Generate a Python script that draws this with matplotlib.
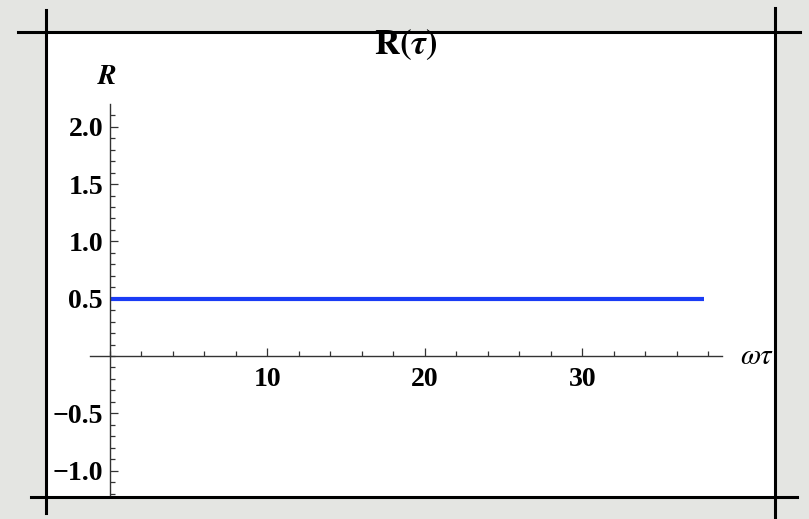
import matplotlib.pyplot as plt
import numpy as np
from matplotlib.lines import Line2D
from matplotlib.patches import Rectangle
from matplotlib.ticker import MultipleLocator, FixedLocator

plt.rcParams['mathtext.fontset'] = 'stix'
plt.rcParams['font.family'] = ['Liberation Serif', 'DejaVu Serif']

# data: R(tau) is flat at 0.5 over 0 .. ~12 pi
omega_tau = [0.0, 37.7]
R_vals = [0.5, 0.5]
y_ticks = [-1.0, -0.5, 0.5, 1.0, 1.5, 2.0]
x_ticks = [10, 20, 30]

W, H = 809, 519
fig = plt.figure(figsize=(W / 100, H / 100), dpi=100)
fig.patch.set_facecolor('#e4e5e2')

def fx(px):
    return px / W

def fy(py):
    return 1 - py / H

# white slide panel with the crop-mark style frame
fig.patches.append(Rectangle((fx(46), fy(496)), fx(775) - fx(46), fy(32) - fy(496),
                             transform=fig.transFigure, facecolor='white',
                             edgecolor='none', zorder=-2))
for xs, ys in [((18, 800), (32, 32)), ((31, 797), (497, 497)),
               ((46, 46), (10, 513)), ((775, 775), (8, 519))]:
    fig.lines.append(Line2D([fx(xs[0]), fx(xs[1])], [fy(ys[0]), fy(ys[1])],
                            transform=fig.transFigure, color='black', lw=2.2,
                            zorder=-1))

ax = fig.add_axes([fx(90), fy(495), fx(722) - fx(90), fy(104) - fy(495)])
ax.set_zorder(1)
ax.set_facecolor('none')
ax.set_xlim(-1.27, 38.86)
ax.set_ylim(-1.213, 2.199)

ax.plot(omega_tau, R_vals, color='#1a3cf5', lw=3, solid_capstyle='butt')

for s in ['top', 'right']:
    ax.spines[s].set_visible(False)
ax.spines['left'].set_position(('data', 0))
ax.spines['bottom'].set_position(('data', 0))
for s in ['left', 'bottom']:
    ax.spines[s].set_color('#333333')
    ax.spines[s].set_linewidth(1.0)

ax.xaxis.set_major_locator(FixedLocator(x_ticks))
ax.xaxis.set_minor_locator(MultipleLocator(2))
ax.yaxis.set_major_locator(FixedLocator(y_ticks))
ax.yaxis.set_minor_locator(MultipleLocator(0.1))
ax.tick_params(which='both', direction='in', color='#333333', width=0.9)
ax.tick_params(which='major', length=6)
ax.tick_params(which='minor', length=3.5)
ax.tick_params(axis='x', which='major', pad=8)
ax.tick_params(axis='y', which='major', pad=5)
ax.set_xticklabels([str(t) for t in x_ticks], fontsize=20, fontweight='bold')
ax.set_yticklabels(['\u2212' + f'{abs(t):.1f}' if t < 0 else f'{t:.1f}' for t in y_ticks],
                   fontsize=20, fontweight='bold')

fig.text(fx(107), fy(77), r'$\boldsymbol{R}$', fontsize=20, ha='center', va='center')
fig.text(fx(757), fy(357), r'$\omega\tau$', fontsize=21, ha='center', va='center')
fig.text(fx(406), fy(45), r'$\mathbf{R(}\boldsymbol{\tau}\mathbf{)}$', fontsize=25,
         ha='center', va='center')

fig.savefig('out.png', dpi=100, facecolor=fig.get_facecolor())
